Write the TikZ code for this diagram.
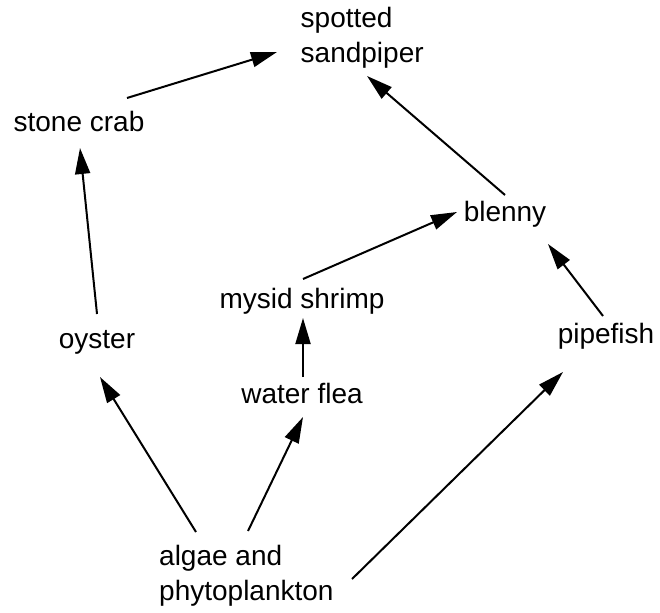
\documentclass[tikz,border=0pt]{standalone}
\usepackage{fontspec}
\setmainfont{Liberation Sans}
\usetikzlibrary{arrows.meta}
\begin{document}
\begin{tikzpicture}[x=1pt,y=-1pt,
  lbl/.style={inner sep=0pt,font=\fontsize{28}{35}\selectfont},
  feed/.style={line width=2pt,-{Triangle[length=26pt,width=15pt]}}]
\useasboundingbox (0,0) rectangle (660,612);
\node[lbl,anchor=base] (sc) at (79,132) {stone crab};
\node[lbl,anchor=base west,align=left] (sp) at (300.5,63) {spotted\\sandpiper};
\node[lbl,anchor=base] (bl) at (505,222) {blenny};
\node[lbl,anchor=base] (ms) at (302,308) {mysid shrimp};
\node[lbl,anchor=base] (oy) at (97,348) {oyster};
\node[lbl,anchor=base] (pf) at (606,343) {pipefish};
\node[lbl,anchor=base] (wf) at (302,403) {water flea};
\node[lbl,anchor=base west,align=left] (al) at (159,600) {algae and\\phytoplankton};
\draw[feed] ([shift={(48,-34)}]sc.base) -- ([shift={(-23.5,-11)}]sp.base west);
\draw[feed] ([shift={(0,-34)}]oy.base) -- ([shift={(1,16)}]sc.base);
\draw[feed] ([shift={(0,-27)}]bl.base) -- ([shift={(66.5,13)}]sp.base west);
\draw[feed] ([shift={(1,-29)}]ms.base) -- ([shift={(-48,-10)}]bl.base);
\draw[feed] ([shift={(-3,-27)}]pf.base) -- ([shift={(43,22)}]bl.base);
\draw[feed] ([shift={(1,-26)}]wf.base) -- ([shift={(1,10)}]ms.base);
\draw[feed] ([shift={(37,-68)}]al.base west) -- ([shift={(3,29)}]oy.base);
\draw[feed] ([shift={(89,-69)}]al.base west) -- ([shift={(1,14)}]wf.base);
\draw[feed] ([shift={(193,-21)}]al.base west) -- ([shift={(-43,29)}]pf.base);
\end{tikzpicture}
\end{document}
